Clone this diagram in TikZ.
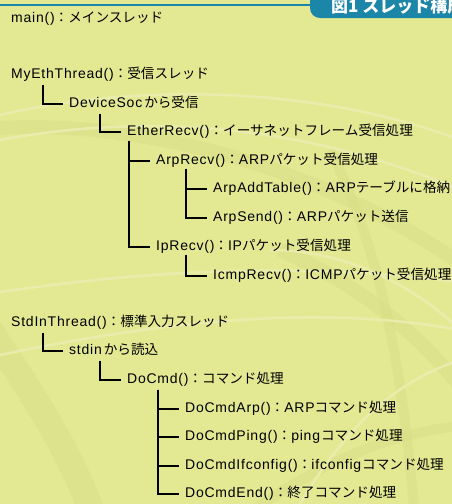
\documentclass[tikz,border=0pt]{standalone}
\usepackage{fontspec}
\setmainfont{Noto Sans CJK JP}
\newfontfamily\latfont{Liberation Sans}[LetterSpace=5.5]
\newcommand\latn[1]{{\fontsize{14}{16}\latfont #1}}
\definecolor{bg}{HTML}{E3E993}
\definecolor{bglight}{HTML}{EBEFB2}
\definecolor{bgdark}{HTML}{D6DD85}
\definecolor{teal}{HTML}{1C86A8}
\begin{document}
\begin{tikzpicture}[x=1pt,y=-1pt,
  lbl/.style={anchor=west,inner sep=0pt,text height=10pt,text depth=3pt,font=\fontsize{13.6}{14}\selectfont},
  tree/.style={line width=1.3pt,black},
  darkband/.style={bgdark,opacity=0.45},
  lightarc/.style={bglight,line width=2.5pt,opacity=0.8}]
\useasboundingbox (0,0) rectangle (452,504);
\fill[bg] (0,0) rectangle (452,504);
\begin{scope}
\clip (0,0) rectangle (452,504);
% darker broad bands
\draw[darkband,line width=14pt] (0,128) .. controls (150,120) and (330,170) .. (470,270);
\draw[darkband,line width=26pt] (-10,330) .. controls (30,390) and (70,450) .. (95,520);
\draw[darkband,line width=14pt] (280,250) .. controls (350,280) and (420,330) .. (470,400);
\draw[darkband,line width=10pt] (240,520) .. controls (320,460) and (400,430) .. (470,425);
\draw[darkband,line width=10pt] (330,150) .. controls (370,230) and (400,330) .. (415,520);
% lighter thin arcs
\draw[lightarc] (0,115) .. controls (150,80) and (330,90) .. (460,140);
\draw[lightarc] (0,140) .. controls (160,110) and (320,130) .. (460,190);
\draw[lightarc] (0,292) .. controls (150,270) and (300,262) .. (460,282);
\draw[lightarc] (0,355) .. controls (120,330) and (300,300) .. (460,330);
\draw[lightarc] (270,250) .. controls (360,250) and (430,300) .. (460,330);
\draw[lightarc] (300,504) .. controls (350,420) and (400,380) .. (460,360);
\end{scope}
% title
\draw[teal,line width=2pt] (0,5) -- (320,5);
\fill[teal] (310,-2) -- (310,8) arc[start angle=180,end angle=270,radius=10pt] -- (460,18) -- (460,-2) -- cycle;
\begin{scope}
\clip (0,0) rectangle (452,504);
\node[anchor=west,inner sep=0pt,text=white,font=\fontsize{17}{18}\bfseries\selectfont] (title) at (331,6.5) {図1 スレッド構成};
\end{scope}
% nodes
\node[lbl] (main) at (11,19) {\latn{main()}：メインスレッド};
\node[lbl] (my) at (11,75) {\latn{MyEthThread()}：受信スレッド};
\node[lbl] (dev) at (69,104) {\latn{DeviceSoc}\hspace{2pt}から受信};
\node[lbl] (ether) at (127,132) {\latn{EtherRecv()}：イーサネットフレーム受信処理};
\node[lbl] (arp) at (156,161) {\latn{ArpRecv()}：\latn{ARP}パケット受信処理};
\node[lbl] (add) at (213,189) {\latn{ArpAddTable()}：\latn{ARP}テーブルに格納};
\node[lbl] (send) at (213,218) {\latn{ArpSend()}：\latn{ARP}パケット送信};
\node[lbl] (ip) at (156,247) {\latn{IpRecv()}：\latn{IP}パケット受信処理};
\node[lbl] (icmp) at (213,276) {\latn{IcmpRecv()}：\latn{ICMP}パケット受信処理};
\node[lbl] (std) at (11,323) {\latn{StdInThread()}：標準入力スレッド};
\node[lbl] (stdin) at (69,351) {\latn{stdin}\hspace{2pt}から読込};
\node[lbl] (docmd) at (127,380) {\latn{DoCmd()}：コマンド処理};
\node[lbl] (carp) at (185,409) {\latn{DoCmdArp()}：\latn{ARP}コマンド処理};
\node[lbl] (cping) at (185,437) {\latn{DoCmdPing()}：\latn{ping}\hspace{1pt}コマンド処理};
\node[lbl] (cif) at (185,466) {\latn{DoCmdIfconfig()}：\latn{ifconfig}\hspace{1pt}コマンド処理};
\node[lbl] (cend) at (185,494) {\latn{DoCmdEnd()}：終了コマンド処理};
% connectors
\draw[tree] ([shift={(32,3)}]my.south west) |- ([xshift=-6pt]dev.west);
\draw[tree] ([shift={(31,3)}]dev.south west) |- ([xshift=-6pt]ether.west);
\draw[tree] ([shift={(2,2)}]ether.south west) |- ([xshift=-6pt]arp.west);
\draw[tree] ([shift={(2,2)}]ether.south west) |- ([xshift=-6pt]ip.west);
\draw[tree] ([shift={(30,1)}]arp.south west) |- ([xshift=-6pt]add.west);
\draw[tree] ([shift={(30,1)}]arp.south west) |- ([xshift=-6pt]send.west);
\draw[tree] ([shift={(30,1)}]ip.south west) |- ([xshift=-6pt]icmp.west);
\draw[tree] ([shift={(32,3)}]std.south west) |- ([xshift=-6pt]stdin.west);
\draw[tree] ([shift={(31,3)}]stdin.south west) |- ([xshift=-6pt]docmd.west);
\foreach \c in {carp,cping,cif,cend}
  \draw[tree] ([shift={(31,3)}]docmd.south west) |- ([xshift=-6pt]\c.west);
\end{tikzpicture}
\end{document}
